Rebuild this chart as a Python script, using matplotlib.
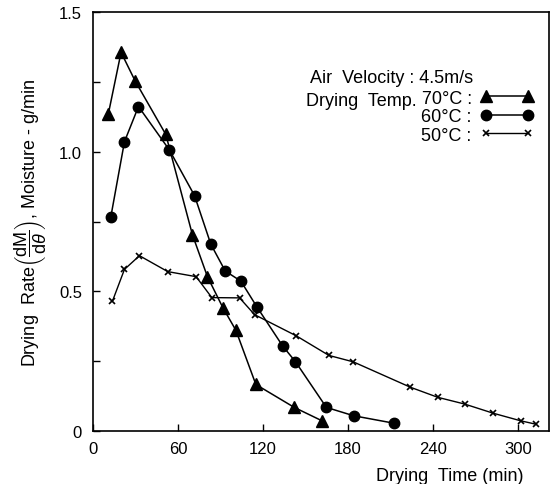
import matplotlib
matplotlib.use("Agg")
import matplotlib.pyplot as plt
from matplotlib.ticker import MultipleLocator

# drying time (min) and drying rate (g/min)
t70 = [10.8, 19.8, 29.7, 51.4, 70.2, 80.8, 91.7, 100.9, 115.0, 142.1, 161.7]
r70 = [1.135, 1.356, 1.254, 1.062, 0.703, 0.553, 0.442, 0.361, 0.167, 0.085, 0.037]

t60 = [12.5, 22.2, 32.1, 54.0, 71.7, 83.2, 93.4, 104.4, 115.7, 133.9, 142.9, 164.8, 184.1, 212.9]
r60 = [0.765, 1.036, 1.162, 1.006, 0.843, 0.669, 0.573, 0.537, 0.445, 0.305, 0.249, 0.085, 0.055, 0.028]

t50 = [13.7, 22.2, 32.8, 52.8, 72.8, 83.9, 103.5, 114.1, 143.6, 166.6, 183.8, 224.2, 243.5, 262.4, 282.7, 302.0, 312.6]
r50 = [0.465, 0.579, 0.628, 0.571, 0.553, 0.478, 0.477, 0.417, 0.341, 0.271, 0.248, 0.157, 0.121, 0.097, 0.064, 0.037, 0.025]

labels = ["70°C :", "60°C :", "50°C :"]

plt.rcParams['font.family'] = ['Liberation Sans', 'DejaVu Sans']
plt.rcParams['mathtext.fontset'] = 'custom'
plt.rcParams['mathtext.rm'] = 'Liberation Sans'
plt.rcParams['mathtext.it'] = 'Liberation Sans:italic'

fig = plt.figure(figsize=(5.57, 4.85), dpi=100)
ax = fig.add_axes([0.167, 0.109, 0.8186, 0.864])

ax.plot(t70, r70, color='black', lw=1.1, marker='^', ms=9, label=labels[0])
ax.plot(t60, r60, color='black', lw=1.1, marker='o', ms=7.5, label=labels[1])
ax.plot(t50, r50, color='black', lw=1.0, marker='x', ms=5, mew=1.2, label=labels[2])

ax.set_xlim(0, 322)
ax.set_ylim(0, 1.5)
ax.set_xticks([0, 60, 120, 180, 240, 300])
ax.set_yticks([0, 0.5, 1.0, 1.5])
ax.set_yticklabels(['0', '0.5', '1.0', '1.5'])
ax.yaxis.set_minor_locator(MultipleLocator(0.25))
ax.tick_params(which='both', direction='in', labelsize=12, width=1, length=5)
ax.tick_params(axis='x', pad=7)
ax.tick_params(axis='y', pad=8)
for s in ax.spines.values():
    s.set_linewidth(1.2)

ax.set_ylabel(r'Drying  Rate$\left(\dfrac{\mathrm{dM}}{\mathrm{d}\theta}\right)$, Moisture - g/min', fontsize=13)
ax.yaxis.set_label_coords(-0.099, 0.5)
fig.text(0.939, 0.008, 'Drying  Time (min)', ha='right', va='baseline', fontsize=13)

ax.text(0.476, 0.845, 'Air  Velocity : 4.5m/s', transform=ax.transAxes, fontsize=13, va='center')
ax.text(0.468, 0.79, 'Drying  Temp.', transform=ax.transAxes, fontsize=13, va='center')
leg = ax.legend(loc='upper left', bbox_to_anchor=(0.72, 0.815), frameon=False,
                markerfirst=False, numpoints=2, handlelength=2.9, handletextpad=0.5,
                labelspacing=0.08, fontsize=13, borderpad=0, borderaxespad=0)

fig.savefig('out.png', dpi=100)
